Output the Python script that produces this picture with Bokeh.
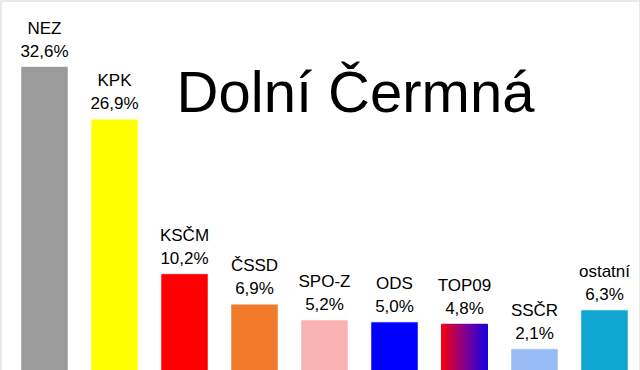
import numpy as np
from bokeh.plotting import figure
from bokeh.models import Range1d, Label, Span, ColumnDataSource
from bokeh.core.properties import value
from bokeh.embed import file_html
from bokeh.resources import INLINE

parties = ["NEZ", "KPK", "KSČM", "ČSSD", "SPO-Z", "ODS", "TOP09", "SSČR", "ostatní"]
shares = [32.6, 26.9, 10.2, 6.9, 5.2, 5.0, 4.8, 2.1, 6.3]
share_labels = ["32,6%", "26,9%", "10,2%", "6,9%", "5,2%", "5,0%", "4,8%", "2,1%", "6,3%"]
colors = ["#9b9b9b", "#ffff00", "#ff0000", "#f27b2b", "#f9b2b2", "#0000ff", None, "#97bcf5", "#0fa6cf"]
title_text = "Dolní Čermná"

W, H = 640, 370
xs = np.arange(len(parties), dtype=float)
bar_w = 46 / 70

p = figure(width=W, height=H, output_backend="svg", toolbar_location=None,
           x_range=Range1d(-44 / 70, (W - 44) / 70), y_range=Range1d(-0.2, 39.8),
           min_border=0, min_border_left=0, min_border_right=0,
           min_border_top=0, min_border_bottom=0)
p.xaxis.visible = False
p.yaxis.visible = False
p.grid.visible = False
p.outline_line_color = None
p.background_fill_color = "white"
p.border_fill_color = "white"

# plain bars
plain = [i for i, c in enumerate(colors) if c is not None]
src = ColumnDataSource(dict(x=xs[plain], top=[shares[i] for i in plain],
                            color=[colors[i] for i in plain]))
p.vbar(x="x", top="top", bottom=-1, width=bar_w, fill_color="color",
       line_color="color", line_width=0.5, source=src)

# gradient bar (TOP09): red -> blue, drawn as thin strips
gi = [i for i, c in enumerate(colors) if c is None][0]
n = 46
t = (np.arange(n) + 0.5) / n
strip_x = xs[gi] - bar_w / 2 + t * bar_w
r = np.interp(t, [0, 0.5, 1], [250, 135, 25]).astype(int)
b = np.interp(t, [0, 0.5, 1], [10, 140, 225]).astype(int)
g = np.zeros(n, dtype=int)
gcols = ["#%02x%02x%02x" % (ri, gg, bi) for ri, gg, bi in zip(r, g, b)]
p.vbar(x=strip_x, top=shares[gi], bottom=-1, width=bar_w / n,
       fill_color=gcols, line_color=gcols, line_width=1)

lab = ColumnDataSource(dict(x=xs, y=shares, name=parties, val=share_labels))
p.text(x="x", y="y", text="val", source=lab, text_align="center",
       text_baseline="alphabetic", y_offset=-16, text_font=value("Liberation Sans"),
       text_font_size="17px", text_color="black")
p.text(x="x", y="y", text="name", source=lab, text_align="center",
       text_baseline="alphabetic", y_offset=-39, text_font=value("Liberation Sans"),
       text_font_size="17px", text_color="black")

p.add_layout(Label(x=355, y=H - 91, x_units="screen", y_units="screen", text=title_text,
                   text_align="center", text_baseline="alphabetic",
                   text_font="Liberation Sans", text_font_size="58px", text_color="black"))

for loc, dim in [(p.x_range.start, "height"), (p.x_range.end, "height"), (p.y_range.end, "width")]:
    p.add_layout(Span(location=loc, dimension=dim, line_color="#d4d4d4", line_width=2))

open("out.html", "w").write(file_html(p, INLINE))
